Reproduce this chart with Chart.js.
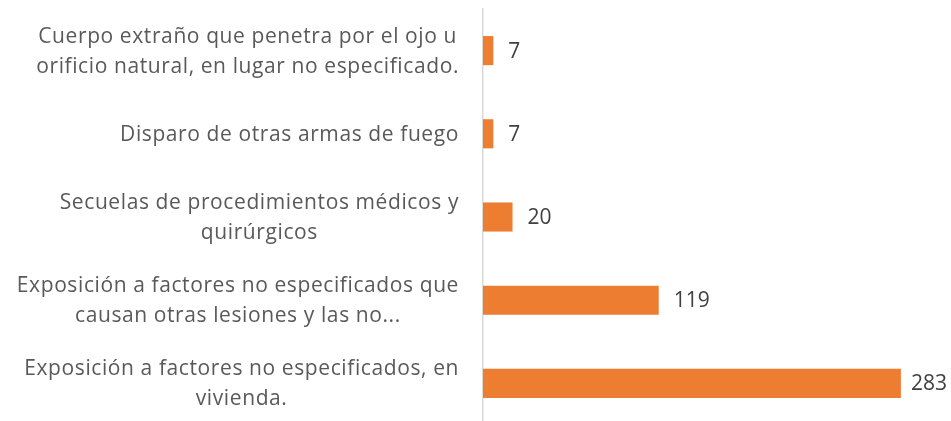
<!DOCTYPE html>
<html lang="es">
<head>
    <meta charset="UTF-8">
    <title>Causas externas</title>
    <style>
        html, body {
            margin: 0;
            padding: 0;
            background: #fff;
            overflow: hidden;
        }
        .chart-box {
            position: relative;
            width: 951px;
            height: 425px;
        }
    </style>
    <script src="https://cdn.jsdelivr.net/npm/chart.js@4.4.1/dist/chart.umd.min.js"></script>
</head>
<body>
<div class="chart-box">
    <canvas id="causasChart"></canvas>
</div>

<script>
    // categories (each one wrapped the way the reference shows it)
    const categorias = [
        ['Cuerpo extraño que penetra por el ojo u', 'orificio natural, en lugar no especificado.'],
        ['Disparo de otras armas de fuego'],
        ['Secuelas de procedimientos médicos y', 'quirúrgicos'],
        ['Exposición a factores no especificados que', 'causan otras lesiones y las no...'],
        ['Exposición a factores no especificados, en', 'vivienda.']
    ];
    const casos = [7, 7, 20, 119, 283];
    const ejeMin = 0;
    const ejeMax = 300;

    const FONT = '21px "Open Sans", sans-serif';
    const LINE_H = 30;

    // draws the wrapped category labels: lines centred within their block, block right-aligned
    const etiquetasEje = {
        id: 'etiquetasEje',
        afterDraw(chart) {
            const ctx = chart.ctx;
            const y = chart.scales.y;
            const right = chart.chartArea.left - 24;
            ctx.save();
            ctx.font = FONT;
            ctx.letterSpacing = '0.6px';
            ctx.fillStyle = '#595959';
            ctx.textAlign = 'center';
            ctx.textBaseline = 'middle';
            categorias.forEach((lines, i) => {
                const w = Math.max(...lines.map(l => ctx.measureText(l).width));
                const cx = right - w / 2;
                const cy = y.getPixelForTick(i) + 1;
                const top = cy - (lines.length - 1) * LINE_H / 2;
                lines.forEach((l, j) => ctx.fillText(l, cx, top + j * LINE_H));
            });
            ctx.restore();
        }
    };

    // value labels at the end of each bar, kept inside the canvas like Excel does
    const valores = {
        id: 'valores',
        afterDatasetsDraw(chart) {
            const ctx = chart.ctx;
            const meta = chart.getDatasetMeta(0);
            ctx.save();
            ctx.font = FONT;
            ctx.fillStyle = '#404040';
            ctx.textAlign = 'left';
            ctx.textBaseline = 'middle';
            meta.data.forEach((bar, i) => {
                const txt = String(casos[i]);
                const w = ctx.measureText(txt).width;
                const x = Math.min(bar.x + 15, chart.width - w - 4);
                ctx.fillText(txt, x, bar.y + 1);
            });
            ctx.restore();
        }
    };

    document.addEventListener('DOMContentLoaded', function() {
        const ctx = document.getElementById('causasChart').getContext('2d');
        new Chart(ctx, {
            type: 'bar',
            data: {
                labels: categorias,
                datasets: [{
                    data: casos,
                    backgroundColor: '#ED7D31',
                    borderWidth: 0,
                    categoryPercentage: 1,
                    barPercentage: 0.35
                }]
            },
            options: {
                indexAxis: 'y',
                responsive: true,
                maintainAspectRatio: false,
                animation: false,
                layout: { padding: { top: 9, right: 25, bottom: 0, left: 0 } },
                scales: {
                    x: { display: false, min: ejeMin, max: ejeMax },
                    y: {
                        afterFit(s) { s.width = 483; },
                        grid: { display: false, drawTicks: false },
                        border: { display: true, color: '#D9D9D9', width: 1.5 },
                        ticks: { display: false }
                    }
                },
                plugins: {
                    legend: { display: false },
                    tooltip: { enabled: false }
                }
            },
            plugins: [etiquetasEje, valores]
        });
    });
</script>
</body>
</html>
